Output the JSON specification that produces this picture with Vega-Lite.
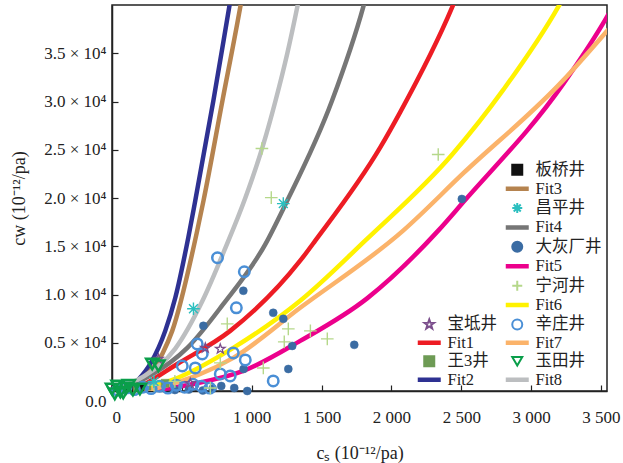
{
  "$schema": "https://vega.github.io/schema/vega-lite/v6.json",
  "width": 495,
  "height": 386,
  "autosize": {"type": "none"},
  "padding": {"left": 112, "top": 5, "right": 16, "bottom": 72},
  "config": {
    "view": {"stroke": "#222", "strokeWidth": 1.5},
    "font": "Liberation Serif",
    "axis": {"grid": false, "domainColor": "#222", "domainWidth": 1.5, "tickColor": "#222", "tickWidth": 1.2, "tickSize": -6, "labelFont": "Liberation Serif", "labelFontSize": 17, "labelColor": "#222", "titleFont": "Liberation Serif", "titleFontSize": 18, "titleFontWeight": "normal", "titleColor": "#222"},
    "legend": {"labelFont": "Liberation Serif, Noto Sans CJK SC", "labelFontSize": 16.5, "labelColor": "#222", "symbolSize": 100, "symbolStrokeWidth": 2, "rowPadding": 0.4, "columnPadding": 5, "labelOffset": 10, "padding": 0}
  },
  "datasets": {
    "pts": [
      {"series": "Fit1", "x": 130, "y": 0}, {"series": "Fit1", "x": 181, "y": 310}, {"series": "Fit1", "x": 467, "y": 2800}, {"series": "Fit1", "x": 846, "y": 6230}, {"series": "Fit1", "x": 1347, "y": 13500}, {"series": "Fit1", "x": 1455, "y": 15580}, {"series": "Fit1", "x": 1920, "y": 25240}, {"series": "Fit1", "x": 2063, "y": 28900}, {"series": "Fit1", "x": 2435, "y": 39780}, {"series": "Fit1", "x": 2470, "y": 41000},
      {"series": "Fit2", "x": 110, "y": 0}, {"series": "Fit2", "x": 181, "y": 1040}, {"series": "Fit2", "x": 274, "y": 2810}, {"series": "Fit2", "x": 381, "y": 6230}, {"series": "Fit2", "x": 453, "y": 9660}, {"series": "Fit2", "x": 546, "y": 15900}, {"series": "Fit2", "x": 596, "y": 19730}, {"series": "Fit2", "x": 726, "y": 30120}, {"series": "Fit2", "x": 839, "y": 39780}, {"series": "Fit2", "x": 865, "y": 42000},
      {"series": "Fit3", "x": 120, "y": 0}, {"series": "Fit3", "x": 202, "y": 1040}, {"series": "Fit3", "x": 360, "y": 3840}, {"series": "Fit3", "x": 431, "y": 6230}, {"series": "Fit3", "x": 610, "y": 16620}, {"series": "Fit3", "x": 655, "y": 19730}, {"series": "Fit3", "x": 791, "y": 30120}, {"series": "Fit3", "x": 918, "y": 39780}, {"series": "Fit3", "x": 945, "y": 42000},
      {"series": "Fit4", "x": 40, "y": 100}, {"series": "Fit4", "x": 274, "y": 1600}, {"series": "Fit4", "x": 539, "y": 4470}, {"series": "Fit4", "x": 796, "y": 9000}, {"series": "Fit4", "x": 1097, "y": 15200}, {"series": "Fit4", "x": 1240, "y": 19300}, {"series": "Fit4", "x": 1576, "y": 30120}, {"series": "Fit4", "x": 1798, "y": 39780}, {"series": "Fit4", "x": 1830, "y": 41500},
      {"series": "Fit5", "x": 274, "y": 0}, {"series": "Fit5", "x": 582, "y": 730}, {"series": "Fit5", "x": 940, "y": 2080}, {"series": "Fit5", "x": 1347, "y": 5190}, {"series": "Fit5", "x": 1826, "y": 9600}, {"series": "Fit5", "x": 2335, "y": 16620}, {"series": "Fit5", "x": 2504, "y": 19400}, {"series": "Fit5", "x": 3231, "y": 31850}, {"series": "Fit5", "x": 3529, "y": 38430}, {"series": "Fit5", "x": 3560, "y": 39200},
      {"series": "Fit6", "x": 152, "y": 0}, {"series": "Fit6", "x": 467, "y": 1350}, {"series": "Fit6", "x": 868, "y": 4470}, {"series": "Fit6", "x": 1347, "y": 9350}, {"series": "Fit6", "x": 1812, "y": 15580}, {"series": "Fit6", "x": 2435, "y": 24510}, {"series": "Fit6", "x": 2800, "y": 31200}, {"series": "Fit6", "x": 3193, "y": 39780}, {"series": "Fit6", "x": 3240, "y": 41000},
      {"series": "Fit7", "x": 224, "y": 0}, {"series": "Fit7", "x": 324, "y": 310}, {"series": "Fit7", "x": 868, "y": 3430}, {"series": "Fit7", "x": 1347, "y": 8620}, {"series": "Fit7", "x": 2084, "y": 16620}, {"series": "Fit7", "x": 2513, "y": 22540}, {"series": "Fit7", "x": 3229, "y": 32190}, {"series": "Fit7", "x": 3529, "y": 37080}, {"series": "Fit7", "x": 3560, "y": 37600},
      {"series": "Fit8", "x": 0, "y": 200}, {"series": "Fit8", "x": 224, "y": 1500}, {"series": "Fit8", "x": 453, "y": 4400}, {"series": "Fit8", "x": 646, "y": 9300}, {"series": "Fit8", "x": 811, "y": 14800}, {"series": "Fit8", "x": 954, "y": 20000}, {"series": "Fit8", "x": 1082, "y": 25500}, {"series": "Fit8", "x": 1169, "y": 30000}, {"series": "Fit8", "x": 1255, "y": 35000}, {"series": "Fit8", "x": 1326, "y": 39780}, {"series": "Fit8", "x": 1350, "y": 41500},
      {"series": "辛庄井", "x": 755, "y": 13810}, {"series": "辛庄井", "x": 947, "y": 12360}, {"series": "辛庄井", "x": 890, "y": 8620}, {"series": "辛庄井", "x": 610, "y": 4880}, {"series": "辛庄井", "x": 646, "y": 3840}, {"series": "辛庄井", "x": 503, "y": 2600}, {"series": "辛庄井", "x": 596, "y": 2390}, {"series": "辛庄井", "x": 868, "y": 3950}, {"series": "辛庄井", "x": 954, "y": 3220}, {"series": "辛庄井", "x": 775, "y": 1770}, {"series": "辛庄井", "x": 846, "y": 1560}, {"series": "辛庄井", "x": 1154, "y": 1040},
      {"series": "辛庄井", "x": 40, "y": 100}, {"series": "辛庄井", "x": 100, "y": 300}, {"series": "辛庄井", "x": 160, "y": 150}, {"series": "辛庄井", "x": 220, "y": 400}, {"series": "辛庄井", "x": 280, "y": 250}, {"series": "辛庄井", "x": 340, "y": 500}, {"series": "辛庄井", "x": 400, "y": 300}, {"series": "辛庄井", "x": 460, "y": 600}, {"series": "辛庄井", "x": 520, "y": 400}, {"series": "辛庄井", "x": 580, "y": 700}, {"series": "辛庄井", "x": 640, "y": 500}, {"series": "辛庄井", "x": 700, "y": 300},
      {"series": "大灰厂井", "x": 2504, "y": 19900}, {"series": "大灰厂井", "x": 1734, "y": 4780}, {"series": "大灰厂井", "x": 940, "y": 10390}, {"series": "大灰厂井", "x": 654, "y": 6750}, {"series": "大灰厂井", "x": 1154, "y": 8100}, {"series": "大灰厂井", "x": 1226, "y": 7480}, {"series": "大灰厂井", "x": 1290, "y": 4670}, {"series": "大灰厂井", "x": 1262, "y": 2280}, {"series": "大灰厂井", "x": 782, "y": 520}, {"series": "大灰厂井", "x": 875, "y": 310}, {"series": "大灰厂井", "x": 968, "y": 0}, {"series": "大灰厂井", "x": 942, "y": 2280}, {"series": "大灰厂井", "x": 450, "y": 100}, {"series": "大灰厂井", "x": 550, "y": 150}, {"series": "大灰厂井", "x": 650, "y": 50}, {"series": "大灰厂井", "x": 720, "y": 250},
      {"series": "宁河井", "x": 1073, "y": 25130}, {"series": "宁河井", "x": 1140, "y": 20040}, {"series": "宁河井", "x": 2335, "y": 24510}, {"series": "宁河井", "x": 825, "y": 6960}, {"series": "宁河井", "x": 1262, "y": 6440}, {"series": "宁河井", "x": 1233, "y": 5090}, {"series": "宁河井", "x": 1083, "y": 2390}, {"series": "宁河井", "x": 1420, "y": 6230}, {"series": "宁河井", "x": 1541, "y": 5400}, {"series": "宁河井", "x": 775, "y": 2910}, {"series": "宁河井", "x": 704, "y": 310}, {"series": "宁河井", "x": 300, "y": 600}, {"series": "宁河井", "x": 450, "y": 1000},
      {"series": "昌平井", "x": 583, "y": 8520}, {"series": "昌平井", "x": 1226, "y": 19420}, {"series": "昌平井", "x": 300, "y": 1000},
      {"series": "宝坻井", "x": 668, "y": 4470}, {"series": "宝坻井", "x": 775, "y": 4360}, {"series": "宝坻井", "x": 332, "y": 3320}, {"series": "宝坻井", "x": 560, "y": 800},
      {"series": "玉田井", "x": 288, "y": 2800}, {"series": "玉田井", "x": 332, "y": 2600}, {"series": "玉田井", "x": 20, "y": -300}, {"series": "玉田井", "x": 60, "y": -100}, {"series": "玉田井", "x": 0, "y": 200}, {"series": "玉田井", "x": 100, "y": 300}, {"series": "玉田井", "x": 150, "y": 100}, {"series": "玉田井", "x": 40, "y": 500}, {"series": "玉田井", "x": 120, "y": 600}, {"series": "玉田井", "x": 80, "y": -200}, {"series": "玉田井", "x": 200, "y": 200},
      {"series": "王3井", "x": 250, "y": 500}, {"series": "王3井", "x": 380, "y": 800}, {"series": "王3井", "x": 180, "y": 300},
      {"series": "板桥井", "x": 120, "y": 200}, {"series": "板桥井", "x": 200, "y": 400}
    ]
  },
  "data": {"name": "pts"},
  "encoding": {
    "x": {"field": "x", "type": "quantitative", "scale": {"domain": [0, 3543], "nice": false, "zero": false},
      "axis": {"values": [0, 500, 1000, 1500, 2000, 2500, 3000, 3500], "labelExpr": "replace(format(datum.value, ','), ',', ' ')", "title": "cₛ (10⁻¹²/pa)", "labelPadding": 24, "titlePadding": 19}},
    "y": {"field": "y", "type": "quantitative", "scale": {"domain": [0, 40000], "nice": false, "zero": false},
      "axis": {"values": [0, 5000, 10000, 15000, 20000, 25000, 30000, 35000], "labelExpr": "datum.value == 0 ? '0.0' : format(datum.value / 10000, '.1f') + ' × 10⁴'", "title": "cw (10⁻¹²/pa)", "labelPadding": 12, "titlePadding": 15,
        "labelOffset": {"condition": {"test": "datum.value == 0", "value": 10}, "value": 0}}}
  },
  "layer": [
    {
      "transform": [{"filter": {"field": "series", "oneOf": ["Fit1", "Fit2", "Fit3", "Fit4", "Fit5", "Fit6", "Fit7", "Fit8"]}}],
      "mark": {"type": "line", "strokeWidth": 4.5, "clip": true, "interpolate": "monotone"},
      "encoding": {
        "stroke": {"field": "series", "type": "nominal",
          "scale": {"domain": ["_1","_2","_3","_4","_5","_6","_7","_8","宝坻井","Fit1","王3井","Fit2","板桥井","Fit3","昌平井","Fit4","大灰厂井","Fit5","宁河井","Fit6","辛庄井","Fit7","玉田井","Fit8"],
            "range": ["transparent","transparent","transparent","transparent","transparent","transparent","transparent","transparent","#7B4E8C","#ED1C24","#6E9B55","#2E3192","#111111","#B5834F","#2BBFBF","#767676","#3B6CA3","#EC008C","#B5D88A","#FFF200","#4A8FD6","#FBB36A","#0A9E4A","#BCBEC0"]}}
      }
    },
    {
      "transform": [{"filter": {"field": "series", "oneOf": ["大灰厂井", "王3井", "板桥井"]}}],
      "mark": {"type": "point", "filled": true, "opacity": 1, "size": 64, "strokeWidth": 0.5},
      "encoding": {
        "shape": {"field": "series", "type": "nominal",
          "scale": {"domain": ["_1","_2","_3","_4","_5","_6","_7","_8","宝坻井","Fit1","王3井","Fit2","板桥井","Fit3","昌平井","Fit4","大灰厂井","Fit5","宁河井","Fit6","辛庄井","Fit7","玉田井","Fit8"],
            "range": ["circle","circle","circle","circle","circle","circle","circle","circle","M0,-1L0.235,-0.324L0.951,-0.309L0.38,0.124L0.588,0.809L0,0.4L-0.588,0.809L-0.38,0.124L-0.951,-0.309L-0.235,-0.324Z","M-2.1,-0.25H2.1V0.25H-2.1Z","square","M-2.1,-0.25H2.1V0.25H-2.1Z","square","M-2.1,-0.25H2.1V0.25H-2.1Z","M0,-1V1M-1,0H1M-0.7,-0.7L0.7,0.7M-0.7,0.7L0.7,-0.7","M-2.1,-0.25H2.1V0.25H-2.1Z","circle","M-2.1,-0.25H2.1V0.25H-2.1Z","M0,-1V1M-1,0H1","M-2.1,-0.25H2.1V0.25H-2.1Z","circle","M-2.1,-0.25H2.1V0.25H-2.1Z","triangle-down","M-2.1,-0.25H2.1V0.25H-2.1Z"]},
          "legend": {"orient": "none", "legendX": 309, "legendY": 156, "columns": 2, "title": null, "labelExpr": "indexof(datum.label, '_') == 0 ? '' : datum.label"}},
        "fill": {"field": "series", "type": "nominal",
          "scale": {"domain": ["_1","_2","_3","_4","_5","_6","_7","_8","宝坻井","Fit1","王3井","Fit2","板桥井","Fit3","昌平井","Fit4","大灰厂井","Fit5","宁河井","Fit6","辛庄井","Fit7","玉田井","Fit8"],
            "range": ["transparent","transparent","transparent","transparent","transparent","transparent","transparent","transparent","transparent","#ED1C24","#6E9B55","#2E3192","#111111","#B5834F","transparent","#767676","#3B6CA3","#EC008C","transparent","#FFF200","transparent","#FBB36A","transparent","#BCBEC0"]},
          "legend": {"orient": "none", "legendX": 309, "legendY": 156, "columns": 2, "title": null, "labelExpr": "indexof(datum.label, '_') == 0 ? '' : datum.label"}},
        "stroke": {"field": "series", "type": "nominal",
          "scale": {"domain": ["_1","_2","_3","_4","_5","_6","_7","_8","宝坻井","Fit1","王3井","Fit2","板桥井","Fit3","昌平井","Fit4","大灰厂井","Fit5","宁河井","Fit6","辛庄井","Fit7","玉田井","Fit8"],
            "range": ["transparent","transparent","transparent","transparent","transparent","transparent","transparent","transparent","#7B4E8C","#ED1C24","#6E9B55","#2E3192","#111111","#B5834F","#2BBFBF","#767676","#3B6CA3","#EC008C","#B5D88A","#FFF200","#4A8FD6","#FBB36A","#0A9E4A","#BCBEC0"]},
          "legend": {"orient": "none", "legendX": 309, "legendY": 156, "columns": 2, "title": null, "labelExpr": "indexof(datum.label, '_') == 0 ? '' : datum.label"}}
      }
    },
    {
      "transform": [{"filter": {"field": "series", "oneOf": ["辛庄井"]}}],
      "mark": {"type": "point", "filled": true, "opacity": 1, "size": 110, "strokeWidth": 2.5},
      "encoding": {
        "shape": {"field": "series", "type": "nominal"},
        "fill": {"field": "series", "type": "nominal"},
        "stroke": {"field": "series", "type": "nominal"}
      }
    },
    {
      "transform": [{"filter": {"field": "series", "oneOf": ["宁河井", "昌平井"]}}],
      "mark": {"type": "point", "filled": true, "opacity": 1, "size": 160, "strokeWidth": 1.4},
      "encoding": {
        "shape": {"field": "series", "type": "nominal"},
        "fill": {"field": "series", "type": "nominal"},
        "stroke": {"field": "series", "type": "nominal"}
      }
    },
    {
      "transform": [{"filter": {"field": "series", "oneOf": ["宝坻井"]}}],
      "mark": {"type": "point", "filled": true, "opacity": 1, "size": 100, "strokeWidth": 1.3},
      "encoding": {
        "shape": {"field": "series", "type": "nominal"},
        "fill": {"field": "series", "type": "nominal"},
        "stroke": {"field": "series", "type": "nominal"}
      }
    },
    {
      "transform": [{"filter": {"field": "series", "oneOf": ["玉田井"]}}],
      "mark": {"type": "point", "filled": true, "opacity": 1, "size": 150, "strokeWidth": 2.5},
      "encoding": {
        "shape": {"field": "series", "type": "nominal"},
        "fill": {"field": "series", "type": "nominal"},
        "stroke": {"field": "series", "type": "nominal"}
      }
    }
  ]
}
